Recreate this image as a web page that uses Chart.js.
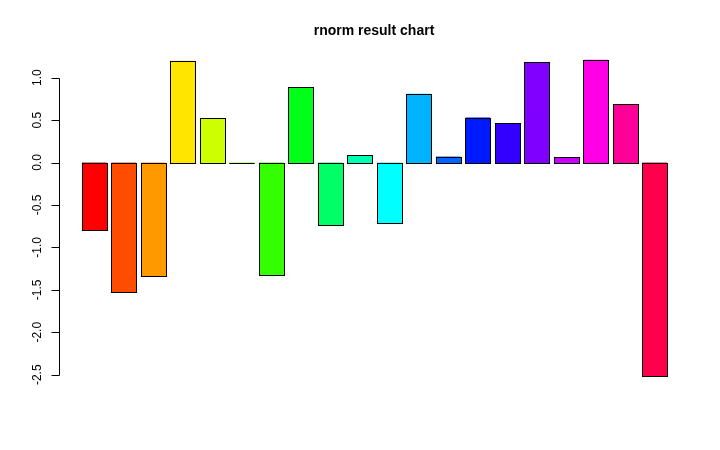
<!DOCTYPE html>
<html lang="en">
  <head>
    <meta charset="UTF-8" />
    <script src="https://cdn.jsdelivr.net/npm/chart.js@4.4.0/dist/chart.umd.min.js"></script>
    <title>rnorm result chart</title>
    <style>
      body { margin: 0; background: #ffffff; }
    </style>
  </head>
  <body>
    <canvas id="chart" width="720" height="450"></canvas>
    <script>
      const categories = ["1", "2", "3", "4", "5", "6", "7", "8", "9", "10",
        "11", "12", "13", "14", "15", "16", "17", "18", "19", "20"];
      const values = [-0.80, -1.52, -1.34, 1.20, 0.52, -0.01, -1.33, 0.89, -0.74, 0.09,
        -0.71, 0.81, 0.07, 0.53, 0.46, 1.18, 0.06, 1.21, 0.69, -2.52];
      const colors = ["#FF0000", "#FF4D00", "#FF9900", "#FFE500", "#CCFF00", "#80FF00",
        "#33FF00", "#00FF19", "#00FF66", "#00FFB2", "#00FFFF", "#00B3FF", "#0066FF",
        "#001AFF", "#3300FF", "#7F00FF", "#CC00FF", "#FF00E6", "#FF0099", "#FF004D"];
      const yTicks = [1.0, 0.5, 0.0, -0.5, -1.0, -1.5, -2.0, -2.5];

      // crisp black outline round each bar, like base graphics rect()
      const barOutline = {
        id: "barOutline",
        afterDatasetsDraw(chart) {
          const ctx = chart.ctx;
          ctx.save();
          ctx.strokeStyle = "#000";
          ctx.lineWidth = 1;
          chart.getDatasetMeta(0).data.forEach((bar, i) => {
            const x0 = Math.round(bar.x - bar.width / 2) + 0.5;
            const x1 = Math.round(bar.x + bar.width / 2) + 0.5;
            const y0 = Math.round(Math.min(bar.y, bar.base)) + 0.5;
            const y1 = Math.round(Math.max(bar.y, bar.base)) + 0.5;
            ctx.fillStyle = colors[i];
            ctx.fillRect(x0, y0, x1 - x0, y1 - y0);
            ctx.strokeRect(x0, y0, x1 - x0, y1 - y0);
          });
          ctx.restore();
        },
      };

      // base-graphics style y axis, vertical labels
      const rAxis = {
        id: "rAxis",
        afterDraw(chart) {
          const ctx = chart.ctx;
          const y = chart.scales.y;
          const ax = 59.5;
          ctx.save();
          ctx.strokeStyle = "#000";
          ctx.lineWidth = 1;
          ctx.beginPath();
          ctx.moveTo(ax, Math.round(y.getPixelForValue(yTicks[0])) + 0.5);
          ctx.lineTo(ax, Math.round(y.getPixelForValue(yTicks[yTicks.length - 1])) + 0.5);
          yTicks.forEach((t) => {
            const py = Math.round(y.getPixelForValue(t)) + 0.5;
            ctx.moveTo(ax, py);
            ctx.lineTo(ax - 8, py);
          });
          ctx.stroke();
          ctx.fillStyle = "#000";
          ctx.font = "12px 'Liberation Sans', Arial, sans-serif";
          ctx.textAlign = "center";
          ctx.textBaseline = "middle";
          yTicks.forEach((t) => {
            ctx.save();
            ctx.translate(38, y.getPixelForValue(t));
            ctx.rotate(-Math.PI / 2);
            ctx.fillText(t.toFixed(1), 0, 0);
            ctx.restore();
          });
          ctx.font = "bold 14px 'Liberation Sans', Arial, sans-serif";
          ctx.textBaseline = "middle";
          ctx.fillText("rnorm result chart", 374, 31);
          ctx.restore();
        },
      };

      const ctx = document.getElementById("chart").getContext("2d");
      new Chart(ctx, {
        type: "bar",
        data: {
          labels: categories,
          datasets: [
            {
              data: values,
              backgroundColor: colors,
              borderWidth: 0,
              barPercentage: 1 / 1.2,
              categoryPercentage: 1,
            },
          ],
        },
        options: {
          responsive: false,
          animation: false,
          layout: {
            padding: { left: 79.5, right: 50.5, top: 52.2, bottom: 66.8 },
          },
          plugins: {
            legend: { display: false },
            tooltip: { enabled: false },
          },
          scales: {
            x: { display: false },
            y: { display: false, min: -2.6, max: 1.3 },
          },
        },
        plugins: [barOutline, rAxis],
      });
    </script>
  </body>
</html>
